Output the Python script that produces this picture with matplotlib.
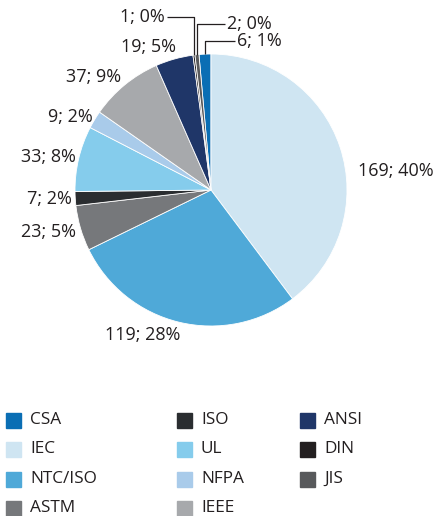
import numpy as np
import matplotlib.pyplot as plt
from matplotlib.patches import Rectangle

plt.rcParams['font.family'] = ['Open Sans', 'DejaVu Sans']

names = ['CSA', 'IEC', 'NTC/ISO', 'ASTM', 'ISO', 'UL', 'NFPA', 'IEEE', 'ANSI', 'DIN', 'JIS']
counts = [6, 169, 119, 23, 7, 33, 9, 37, 19, 1, 2]
pcts = [1, 40, 28, 5, 2, 8, 2, 9, 5, 0, 0]
colors = ['#0a6eb4', '#cfe5f2', '#4fa9d8', '#76787b', '#2a2d30', '#85ccec',
          '#a9cbea', '#a7a9ac', '#1f3668', '#231f20', '#58595b']

txt_col = '#231f20'
W, H = 437, 516
fig = plt.figure(figsize=(W / 100, H / 100), dpi=100)

# pie: center (211,190) px, radius 136 px
cx, cy, r = 211, 190, 136
ax = fig.add_axes([(cx - r) / W, (H - cy - r) / H, 2 * r / W, 2 * r / H])
# the first slice (CSA) ends at 12 o'clock, IEC starts there
start = 90 + counts[0] / sum(counts) * 360
wedges, _ = ax.pie(counts, colors=colors, startangle=start, counterclock=False,
                   wedgeprops=dict(edgecolor='white', linewidth=0.6))
ax.set_xlim(-1, 1)
ax.set_ylim(-1, 1)
ax.set_aspect('equal')
ax.axis('off')

# labels placed just outside the rim, nudged in pixels
rl = 141
nudge = {1: (13, -26, 'left'), 2: (-35, -8, 'center'), 3: (0, -2, 'right'),
         4: (2, 0, 'right'), 5: (2, 0, 'right'), 6: (2, 0, 'right'),
         7: (0, 4, 'right'), 8: (3, 7, 'right')}
for i, (dx, dy, ha) in nudge.items():
    w = wedges[i]
    mid = np.deg2rad((w.theta1 + w.theta2) / 2)
    x = (rl * np.cos(mid) + dx) / r
    y = (rl * np.sin(mid) + dy) / r
    ax.text(x, y, f'{counts[i]}; {pcts[i]}%', ha=ha, va='center',
            fontsize=13, color=txt_col)

# tiny slices near the top get leader lines (text anchor in px from center)
lead = {9: (-46, 173, 'right'), 10: (16, 166, 'left'), 0: (26, 149, 'left')}
for i, (tx, ty, ha) in lead.items():
    w = wedges[i]
    mid = np.deg2rad((w.theta1 + w.theta2) / 2)
    ex, ey = np.cos(mid), np.sin(mid)
    lx = (tx + (-2 if ha == 'left' else 2)) / r
    ax.plot([ex, ex, lx], [ey, ty / r, ty / r], color=txt_col, lw=0.9,
            clip_on=False, solid_capstyle='butt')
    ax.text(tx / r, ty / r, f'{counts[i]}; {pcts[i]}%', ha=ha, va='center',
            fontsize=13, color=txt_col)

# legend, three columns filled top to bottom
col_x = [6, 177, 300]
row_y = [420, 449, 479, 508]
for k, name in enumerate(names):
    c, rr = divmod(k, 4)
    x0, y0 = col_x[c], row_y[rr]
    fig.patches.append(Rectangle((x0 / W, (H - y0 - 7.5) / H), 15 / W, 15 / H,
                                 transform=fig.transFigure, color=colors[k]))
    fig.text((x0 + 24) / W, (H - y0) / H, name, ha='left', va='center',
             fontsize=12.4, color=txt_col)

fig.savefig('out.png', dpi=100)
